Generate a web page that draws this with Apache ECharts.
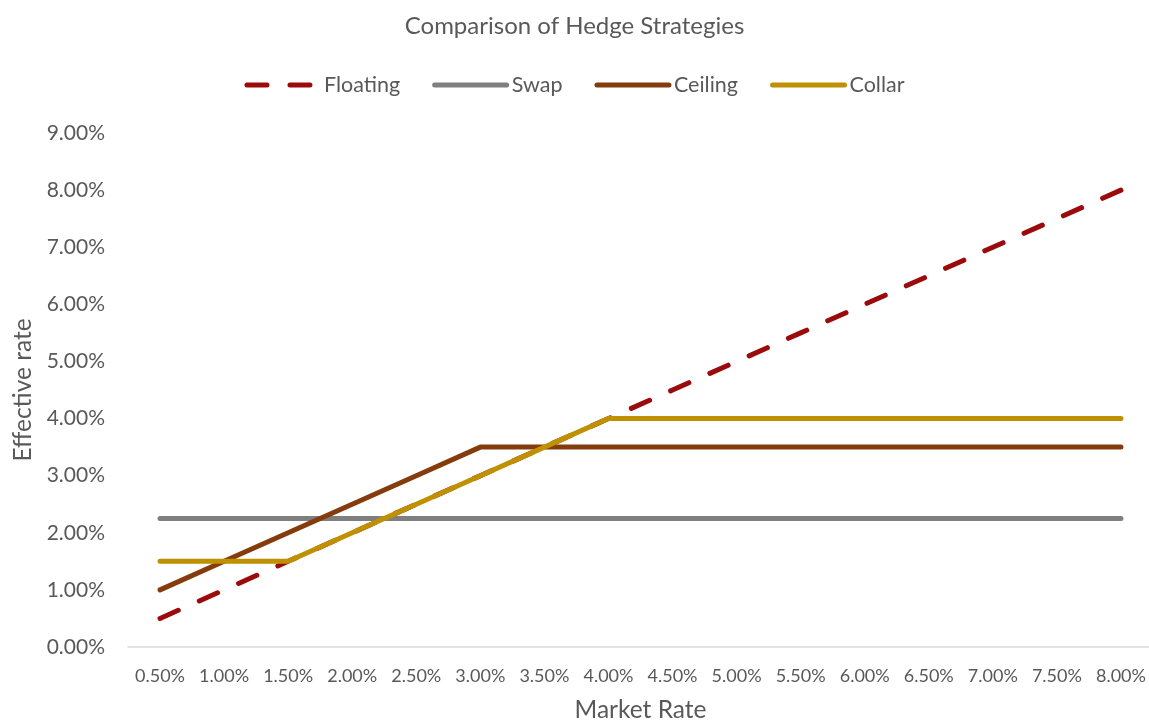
<!DOCTYPE html>
<html>
<head>
<meta charset="utf-8">
<title>Comparison of Hedge Strategies</title>
<script src="https://cdn.jsdelivr.net/npm/echarts@6/dist/echarts.min.js"></script>
<style>
  html, body { margin: 0; padding: 0; background: #fff; }
  #chart { width: 1149px; height: 723px; }
</style>
</head>
<body>
<div id="chart"></div>
<script>
// Market rate scenarios (%)
const marketRates = [0.5, 1.0, 1.5, 2.0, 2.5, 3.0, 3.5, 4.0, 4.5, 5.0, 5.5, 6.0, 6.5, 7.0, 7.5, 8.0];
// Effective rate under each strategy (%)
const floating = [0.5, 1.0, 1.5, 2.0, 2.5, 3.0, 3.5, 4.0, 4.5, 5.0, 5.5, 6.0, 6.5, 7.0, 7.5, 8.0];
const swap     = [2.25, 2.25, 2.25, 2.25, 2.25, 2.25, 2.25, 2.25, 2.25, 2.25, 2.25, 2.25, 2.25, 2.25, 2.25, 2.25];
const ceiling  = [1.0, 1.5, 2.0, 2.5, 3.0, 3.5, 3.5, 3.5, 3.5, 3.5, 3.5, 3.5, 3.5, 3.5, 3.5, 3.5];
const collar   = [1.5, 1.5, 1.5, 2.0, 2.5, 3.0, 3.5, 4.0, 4.0, 4.0, 4.0, 4.0, 4.0, 4.0, 4.0, 4.0];

const FONT = 'Lato, "Open Sans", sans-serif';
const TEXT = '#595959';
const pct = v => Number(v).toFixed(2) + '%';

const chart = echarts.init(document.getElementById('chart'), null, { renderer: 'canvas' });

function lineSeries(name, data, color, dashed) {
  return {
    name, type: 'line', data,
    symbol: 'none',
    lineStyle: {
      color, width: 5,
      type: dashed ? [20, 23] : 'solid',
      cap: 'round', join: 'round'
    },
    itemStyle: { color },
    emphasis: { disabled: true }
  };
}

chart.setOption({
  animation: false,
  backgroundColor: '#ffffff',
  title: {
    text: 'Comparison of Hedge Strategies',
    left: 'center', top: 9,
    textStyle: { fontFamily: FONT, fontSize: 24, fontWeight: 'normal', color: TEXT }
  },
  legend: {
    top: 69, left: 'center',
    itemWidth: 72, itemHeight: 10, itemGap: 32,
    itemStyle: { color: 'transparent', borderWidth: 0 },
    lineStyle: { width: 5, cap: 'round' },
    textStyle: { fontFamily: FONT, fontSize: 21.5, color: TEXT },
    data: ['Floating', 'Swap', 'Ceiling', 'Collar']
  },
  grid: { left: 128, right: -4, top: 133, bottom: 76, containLabel: false, outerBoundsMode: 'none' },
  xAxis: {
    type: 'category',
    data: marketRates.map(pct),
    boundaryGap: true,
    name: 'Market Rate',
    nameLocation: 'middle', nameGap: 51,
    nameTextStyle: { fontFamily: FONT, fontSize: 24.5, color: TEXT },
    axisLine: { lineStyle: { color: '#d9d9d9', width: 1.5 } },
    axisTick: { show: false },
    axisLabel: { fontFamily: FONT, fontSize: 18, color: TEXT, margin: 20, interval: 0 },
    splitLine: { show: false }
  },
  yAxis: {
    type: 'value',
    min: 0, max: 9, interval: 1,
    name: 'Effective rate',
    nameLocation: 'middle', nameGap: 92, nameRotate: 90,
    nameTextStyle: { fontFamily: FONT, fontSize: 24.5, color: TEXT },
    axisLine: { show: false },
    axisTick: { show: false },
    axisLabel: { fontFamily: FONT, fontSize: 21, color: TEXT, margin: 23, formatter: pct },
    splitLine: { show: false }
  },
  series: [
    lineSeries('Floating', floating, '#9b0b0b', true),
    lineSeries('Swap', swap, '#7f7f7f', false),
    lineSeries('Ceiling', ceiling, '#843c0c', false),
    lineSeries('Collar', collar, '#bf9000', false)
  ]
});
</script>
</body>
</html>
